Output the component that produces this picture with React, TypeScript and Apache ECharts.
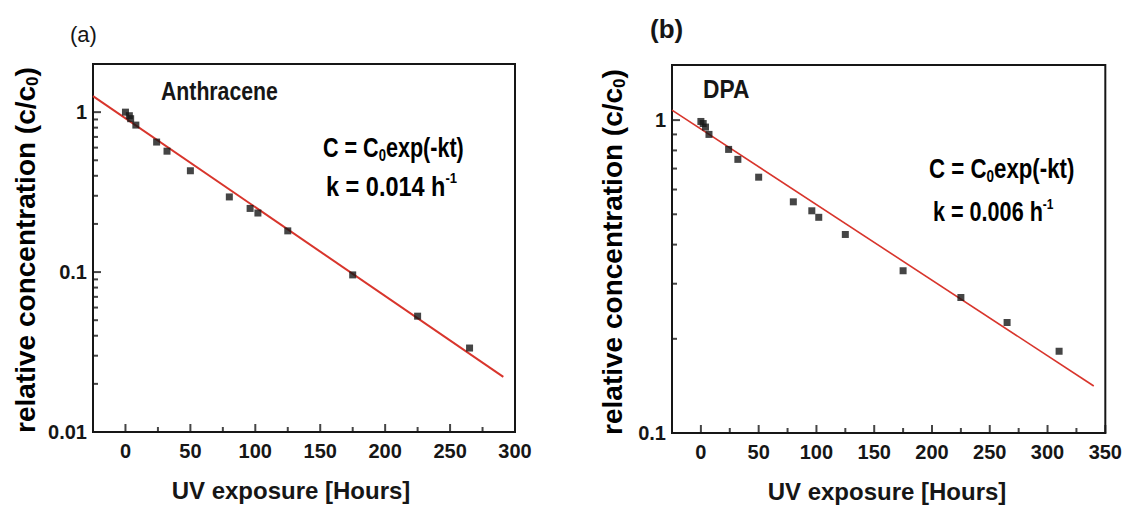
import { useEffect, useRef } from "react";
import * as echarts from "echarts";

// Panel (a): anthracene photodegradation under UV
const hoursA = [0, 3, 4, 8, 24, 32, 50, 80, 96, 102, 125, 175, 225, 265];
const concA = [1.0, 0.95, 0.91, 0.83, 0.65, 0.57, 0.43, 0.295, 0.25, 0.234, 0.181, 0.096, 0.053, 0.0335];
// first-order fit line end points
const fitHoursA = [-25, 291];
const fitConcA = [1.26, 0.0221];

// Panel (b): DPA photodegradation under UV
const hoursB = [0, 2, 4, 7, 24, 32, 50, 80, 96, 102, 125, 175, 225, 265, 310];
const concB = [0.99, 0.975, 0.95, 0.9, 0.806, 0.749, 0.657, 0.548, 0.513, 0.489, 0.431, 0.33, 0.271, 0.2255, 0.1825];
const fitHoursB = [-25, 340];
const fitConcB = [1.076, 0.1413];

// Axis ranges
const xRangeA = [-25, 300];
const yRangeA = [0.01, 2];
const xRangeB = [-25, 350];
const yRangeB = [0.1, 1.5];

// Tick positions
const xMajorA = [0, 50, 100, 150, 200, 250, 300];
const xMinorA = [25, 75, 125, 175, 225, 275];
const yMajorA = [0.01, 0.1, 1];
const yMinorA = [0.02, 0.03, 0.04, 0.05, 0.06, 0.07, 0.08, 0.09, 0.2, 0.3, 0.4, 0.5, 0.6, 0.7, 0.8, 0.9];
const xMajorB = [0, 50, 100, 150, 200, 250, 300, 350];
const xMinorB = [25, 75, 125, 175, 225, 275, 325];
const yMajorB = [0.1, 1];
const yMinorB = [0.2, 0.3, 0.4, 0.5, 0.6, 0.7, 0.8, 0.9];

const INK = "#161616";
const RED = "#d8352c";
const FONT = "'Liberation Sans', Arial, Helvetica, sans-serif";

const zip = (xs: number[], ys: number[]) => xs.map((x, i) => [x, ys[i]]);

function xAxis(gridIndex: number, range: number[], major: number[]) {
  return {
    type: "value",
    gridIndex,
    min: range[0],
    max: range[1],
    axisLine: { show: true, onZero: false, lineStyle: { color: INK, width: 2 } },
    axisTick: { show: false },
    axisLabel: {
      customValues: major,
      fontFamily: FONT,
      fontSize: 20,
      fontWeight: "bold",
      color: INK,
      margin: 9,
    },
    splitLine: { show: false },
  };
}

function yAxis(gridIndex: number, range: number[], major: number[]) {
  return {
    type: "log",
    logBase: 10,
    gridIndex,
    min: range[0],
    max: range[1],
    axisLine: { show: true, onZero: false, lineStyle: { color: INK, width: 2 } },
    axisTick: { show: false },
    axisLabel: {
      customValues: major,
      fontFamily: FONT,
      fontSize: 20,
      fontWeight: "bold",
      color: INK,
      margin: 6,
      formatter: (v: number) => String(v),
    },
    splitLine: { show: false },
  };
}

// Inward tick marks, placed on the axes through the panel's own scales
function xTicks(axisIndex: number, values: number[], yBase: number, len: number) {
  return {
    type: "scatter",
    xAxisIndex: axisIndex,
    yAxisIndex: axisIndex,
    data: values.map((v) => [v, yBase]),
    symbol: "rect",
    symbolSize: [2, len],
    symbolOffset: [0, -len / 2],
    itemStyle: { color: INK },
    clip: false,
    z: 5,
  };
}

function yTicks(axisIndex: number, values: number[], xBase: number, len: number, thick: number) {
  return {
    type: "scatter",
    xAxisIndex: axisIndex,
    yAxisIndex: axisIndex,
    data: values.map((v) => [xBase, v]),
    symbol: "rect",
    symbolSize: [len, thick],
    symbolOffset: [len / 2, 0],
    itemStyle: { color: INK },
    clip: false,
    z: 5,
  };
}

const baseText = { fontFamily: FONT, fill: INK };

function label(x: number, y: number, text: string, opts: any = {}) {
  const { scaleX = 1, rotation = 0, align = "left", ...style } = opts;
  return {
    type: "text",
    x,
    y,
    scaleX,
    rotation,
    style: { ...baseText, text, align, verticalAlign: "middle", ...style },
  };
}

const subRich = (size: number) => ({
  n: { fontFamily: FONT, fontSize: size, fontWeight: "bold", color: INK, lineHeight: size + 4 },
  sub: { fontFamily: FONT, fontSize: Math.round(size * 0.6), fontWeight: "bold", color: INK, lineHeight: size + 4, verticalAlign: "bottom" },
  sup: { fontFamily: FONT, fontSize: Math.round(size * 0.55), fontWeight: "bold", color: INK, lineHeight: size + 4, verticalAlign: "top" },
});

function richLabel(x: number, y: number, text: string, size: number, opts: any = {}) {
  const { scaleX = 1, rotation = 0, align = "left" } = opts;
  return {
    type: "text",
    x,
    y,
    scaleX,
    rotation,
    style: { text, align, verticalAlign: "middle", rich: subRich(size), fontFamily: FONT },
  };
}

export default function App() {
  const ref = useRef<HTMLDivElement>(null);

  useEffect(() => {
    if (!ref.current) return;
    const chart = echarts.init(ref.current, undefined, { renderer: "svg" });
    chart.setOption({
      animation: false,
      grid: [
        { left: 93, top: 64, width: 422, height: 368, show: true, borderColor: INK, borderWidth: 2 },
        { left: 672, top: 65, width: 434, height: 368, show: true, borderColor: INK, borderWidth: 2 },
      ],
      xAxis: [xAxis(0, xRangeA, xMajorA), xAxis(1, xRangeB, xMajorB)],
      yAxis: [yAxis(0, yRangeA, yMajorA), yAxis(1, yRangeB, yMajorB)],
      series: [
        {
          type: "line",
          xAxisIndex: 0,
          yAxisIndex: 0,
          data: zip(fitHoursA, fitConcA),
          showSymbol: false,
          lineStyle: { color: RED, width: 2 },
          z: 2,
        },
        {
          type: "scatter",
          xAxisIndex: 0,
          yAxisIndex: 0,
          data: zip(hoursA, concA),
          symbol: "rect",
          symbolSize: 7,
          itemStyle: { color: INK },
          z: 3,
        },
        {
          type: "line",
          xAxisIndex: 1,
          yAxisIndex: 1,
          data: zip(fitHoursB, fitConcB),
          showSymbol: false,
          lineStyle: { color: RED, width: 1.6 },
          z: 2,
        },
        {
          type: "scatter",
          xAxisIndex: 1,
          yAxisIndex: 1,
          data: zip(hoursB, concB),
          symbol: "rect",
          symbolSize: 7,
          itemStyle: { color: INK },
          z: 3,
        },
        xTicks(0, xMajorA, yRangeA[0], 8),
        xTicks(0, xMinorA, yRangeA[0], 5),
        yTicks(0, yMajorA, xRangeA[0], 8, 2),
        yTicks(0, yMinorA, xRangeA[0], 5, 2),
        xTicks(1, xMajorB, yRangeB[0], 8),
        xTicks(1, xMinorB, yRangeB[0], 5),
        yTicks(1, yMajorB, xRangeB[0], 8, 2),
        yTicks(1, yMinorB, xRangeB[0], 5, 2),
      ],
      graphic: [
        label(70, 34, "(a)", { fontSize: 22 }),
        label(650, 29, "(b)", { fontSize: 26, fontWeight: "bold" }),
        label(161, 91, "Anthracene", { fontSize: 25, fontWeight: "bold", scaleX: 0.85 }),
        label(703, 89, "DPA", { fontSize: 25, fontWeight: "bold", scaleX: 0.91 }),
        richLabel(323, 147, "{n|C = C}{sub|0}{n|exp(-kt)}", 28, { scaleX: 0.77 }),
        richLabel(326, 186, "{n|k = 0.014 h}{sup|-1}", 27, { scaleX: 0.87 }),
        richLabel(929, 168, "{n|C = C}{sub|0}{n|exp(-kt)}", 28, { scaleX: 0.795 }),
        richLabel(933, 212, "{n|k = 0.006 h}{sup|-1}", 27, { scaleX: 0.8 }),
        richLabel(25, 250, "{n|relative concentration (c/c}{sub|0}{n|)}", 28, {
          rotation: Math.PI / 2,
          align: "center",
        }),
        richLabel(612, 252, "{n|relative concentration (c/c}{sub|0}{n|)}", 28, {
          rotation: Math.PI / 2,
          align: "center",
        }),
        label(291, 490, "UV exposure [Hours]", { fontSize: 24, fontWeight: "bold", align: "center" }),
        label(887, 491, "UV exposure [Hours]", { fontSize: 24, fontWeight: "bold", align: "center" }),
      ],
    });
    return () => chart.dispose();
  }, []);

  return (
    <div
      ref={ref}
      style={{ position: "fixed", left: 0, top: 0, width: 1125, height: 508, background: "#fff" }}
    />
  );
}
